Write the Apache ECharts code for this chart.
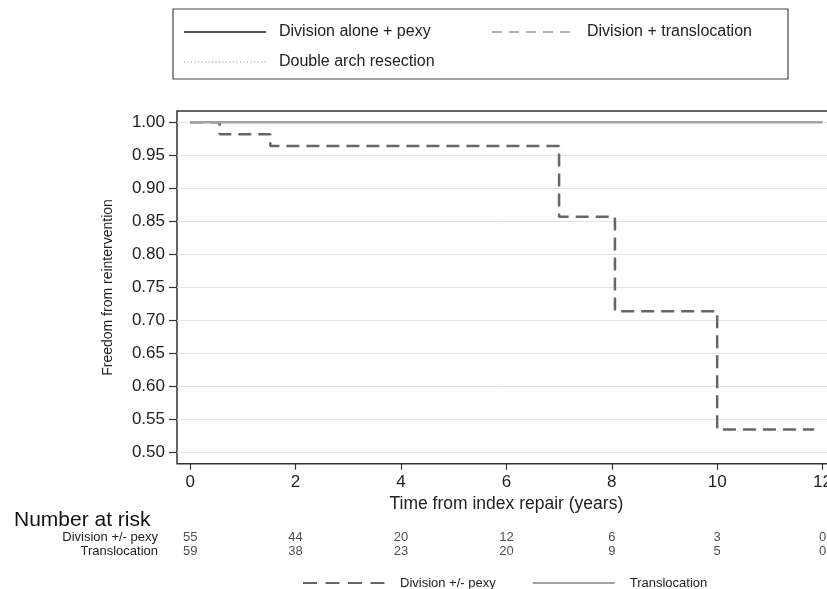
<!DOCTYPE html>
<html>
<head>
<meta charset="utf-8">
<script src="https://cdn.jsdelivr.net/npm/echarts@6/dist/echarts.min.js"></script>
<style>
  html, body { margin: 0; padding: 0; background: #fff; }
  #main { width: 827px; height: 589px; }
</style>
</head>
<body>
<div id="main"></div>
<script>
const FONT = '"Liberation Sans", Arial, Helvetica, sans-serif';

// curves (years, survival)
const divTimes = [0, 0.56, 1.52, 7.0, 8.06, 10.0, 11.84];
const divSurv = [1, 0.982, 0.964, 0.857, 0.714, 0.535, 0.535];
const transTimes = [0, 12];
const transSurv = [1, 1];

// ticks
const xTicks = [0, 2, 4, 6, 8, 10, 12];

// number at risk
const riskRows = ['Translocation', 'Division +/- pexy'];
const riskDivision = [55, 44, 20, 12, 6, 3, 0];
const riskTransloc = [59, 38, 23, 20, 9, 5, 0];

const topLegendNames = ['Division alone + pexy', 'Division + translocation', 'Double arch resection'];
const seriesNames = ['Division +/- pexy', 'Translocation'];

function pairs(xs, ys) {
  return xs.map((x, i) => [x, ys[i]]);
}

const riskData = [];
xTicks.forEach((t, i) => {
  riskData.push([t, 'Division +/- pexy', riskDivision[i]]);
  riskData.push([t, 'Translocation', riskTransloc[i]]);
});

// plot width: -0.25 .. 12.25 years, runs past the right edge of the page
const PLOT_W = 658.75;

const chart = echarts.init(document.getElementById('main'), null, { renderer: 'canvas' });

const option = {
  backgroundColor: '#ffffff',
  animation: false,
  textStyle: { fontFamily: FONT },
  title: {
    text: 'Number at risk',
    left: 14,
    top: 510,
    padding: 0,
    textStyle: { fontFamily: FONT, fontSize: 21, fontWeight: 'normal', color: '#111' }
  },
  legend: [{
    // boxed legend at the top
    data: topLegendNames,
    left: 173,
    top: 9,
    width: 610,
    orient: 'horizontal',
    padding: [14, 1, 8, 10],
    itemGap: 12,
    itemWidth: 82,
    itemHeight: 14,
    itemStyle: { opacity: 0 },
    borderColor: '#444',
    borderWidth: 1.2,
    textStyle: {
      fontFamily: FONT, fontSize: 16, color: '#222',
      width: 200, lineHeight: 18, padding: [0, 0, 0, 8]
    }
  }, {
    data: [
      { name: seriesNames[0], lineStyle: { type: [14, 8.5] } },
      { name: seriesNames[1] }
    ],
    left: 302,
    top: 575,
    padding: 0,
    itemGap: 36,
    itemWidth: 82,
    itemHeight: 14,
    itemStyle: { opacity: 0 },
    textStyle: {
      fontFamily: FONT, fontSize: 13, color: '#222',
      lineHeight: 16, padding: [0, 0, 0, 10]
    }
  }],
  grid: [
    // plot area (1.00 .. 0.50)
    { left: 177, top: 122.3, width: PLOT_W, bottom: 136.3, outerBoundsMode: 'none' },
    // outer frame
    { left: 177, top: 111, width: PLOT_W, bottom: 125.3, outerBoundsMode: 'none', show: true,
      borderColor: '#333', borderWidth: 1.5, backgroundColor: 'transparent' },
    // number at risk rows
    { left: 177, top: 530, width: PLOT_W, bottom: 31, outerBoundsMode: 'none' }
  ],
  xAxis: [{
    gridIndex: 0,
    type: 'value',
    min: -0.25,
    max: 12.25,
    offset: 11,
    axisLine: { show: false, onZero: false },
    axisTick: {
      show: true, length: 6, customValues: xTicks,
      lineStyle: { color: '#333', width: 1.2 }
    },
    axisLabel: {
      customValues: xTicks, margin: 10,
      fontFamily: FONT, fontSize: 17, color: '#222'
    },
    splitLine: { show: false },
    name: 'Time from index repair (years)',
    nameLocation: 'middle',
    nameGap: 28,
    nameTextStyle: { fontFamily: FONT, fontSize: 17.5, color: '#222' }
  }, {
    gridIndex: 2,
    type: 'value',
    min: -0.25,
    max: 12.25,
    show: false
  }],
  yAxis: [{
    gridIndex: 0,
    type: 'value',
    min: 0.5,
    max: 1.0,
    interval: 0.05,
    axisLine: { show: false, onZero: false },
    axisTick: { show: true, length: 8, lineStyle: { color: '#333', width: 1.2 } },
    axisLabel: {
      margin: 12,
      fontFamily: FONT, fontSize: 17, color: '#222',
      formatter: v => v.toFixed(2)
    },
    splitLine: { show: true, lineStyle: { color: '#e3e3e3', width: 1 } },
    name: 'Freedom from reintervention',
    nameLocation: 'middle',
    nameGap: 62,
    nameTextStyle: { fontFamily: FONT, fontSize: 14, color: '#222' }
  }, {
    gridIndex: 2,
    type: 'category',
    data: riskRows,
    axisLine: { show: false, onZero: false },
    axisTick: { show: false },
    axisLabel: { interval: 0, margin: 19, fontFamily: FONT, fontSize: 13, color: '#222' },
    splitLine: { show: false }
  }],
  series: [{
    name: 'Division +/- pexy',
    type: 'line',
    step: 'end',
    xAxisIndex: 0, yAxisIndex: 0,
    symbol: 'none',
    data: pairs(divTimes, divSurv),
    itemStyle: { color: '#666666' },
    lineStyle: { color: '#666666', width: 2.5, type: [13, 7], cap: 'butt' }
  }, {
    name: 'Translocation',
    type: 'line',
    step: 'end',
    xAxisIndex: 0, yAxisIndex: 0,
    symbol: 'none',
    data: pairs(transTimes, transSurv),
    itemStyle: { color: '#a3a3a3' },
    lineStyle: { color: '#a3a3a3', width: 2.5, type: 'solid' }
  }, {
    // legend-only entries of the boxed legend
    name: 'Division alone + pexy',
    type: 'line', symbol: 'none', data: [],
    itemStyle: { color: '#555555' },
    lineStyle: { color: '#555555', width: 1.3, type: 'solid' }
  }, {
    name: 'Division + translocation',
    type: 'line', symbol: 'none', data: [],
    itemStyle: { color: '#b0b0b0' },
    lineStyle: { color: '#b0b0b0', width: 1.5, type: [10, 7] }
  }, {
    name: 'Double arch resection',
    type: 'line', symbol: 'none', data: [],
    itemStyle: { color: '#c4c4c4' },
    lineStyle: { color: '#c4c4c4', width: 1, type: [1, 2.5] }
  }, {
    name: 'risk',
    type: 'scatter',
    xAxisIndex: 1, yAxisIndex: 1,
    symbolSize: 1,
    itemStyle: { color: 'rgba(0,0,0,0)' },
    data: riskData,
    label: {
      show: true,
      position: 'inside',
      formatter: p => String(p.value[2]),
      fontFamily: FONT, fontSize: 13, color: '#222'
    }
  }]
};

chart.setOption(option);
</script>
</body>
</html>
